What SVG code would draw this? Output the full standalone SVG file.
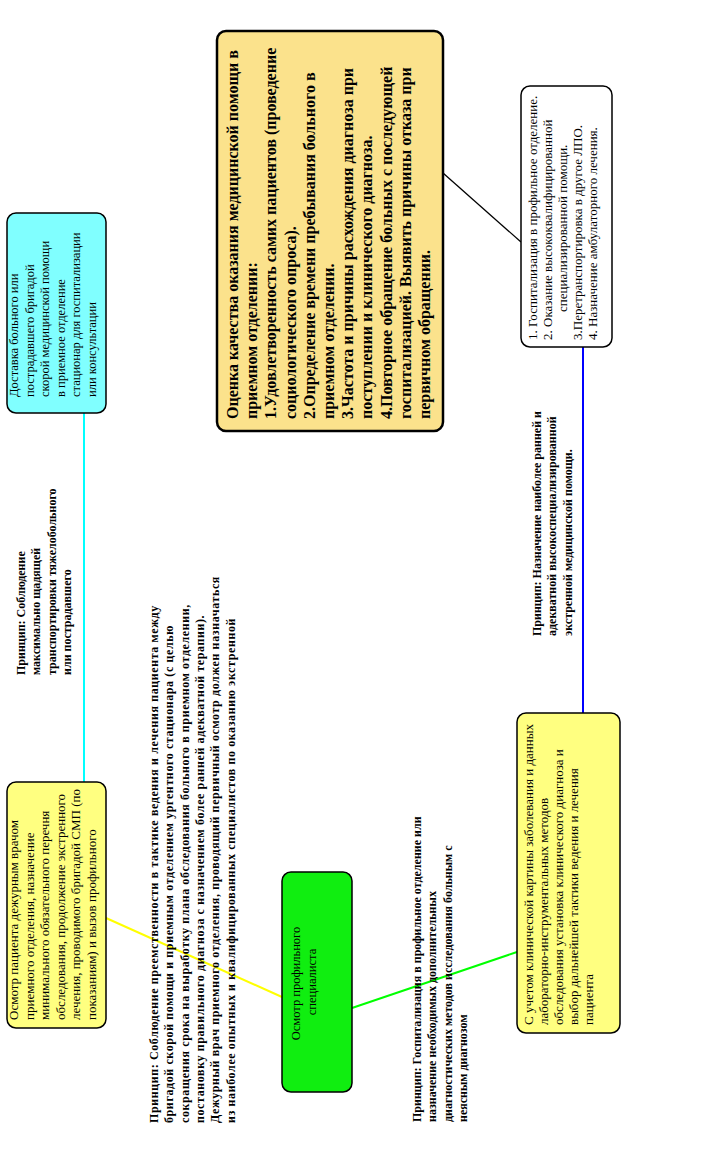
<svg xmlns="http://www.w3.org/2000/svg" width="706" height="1158" viewBox="0 0 706 1158">
<style>
.box{stroke:#000;stroke-width:1.5}
.t{font-family:"Liberation Serif","DejaVu Serif",serif;font-size:12.5px;fill:#000}
.t13{font-family:"Liberation Serif","DejaVu Serif",serif;font-size:13px;fill:#000}
.b{font-family:"Liberation Serif","DejaVu Serif",serif;font-size:12px;font-weight:bold;fill:#000}
.ob{font-family:"Liberation Serif","DejaVu Serif",serif;font-size:16px;font-weight:bold;fill:#000}
.c{fill:none;stroke-width:2}
</style>
<rect width="706" height="1158" fill="#fff"/>
<g id="connectors">
<line class="c" x1="84" y1="413" x2="84" y2="782" stroke="#00FFFF"/>
<line class="c" x1="106" y1="918" x2="282" y2="997" stroke="#FFFF00"/>
<line class="c" x1="352" y1="1008" x2="517" y2="952" stroke="#00FF00"/>
<line class="c" x1="583" y1="713" x2="583" y2="347" stroke="#0000FF"/>
<line x1="443" y1="173" x2="521" y2="242" stroke="#000" stroke-width="1.3"/>
</g>
<g id="node-delivery">
<rect class="box" x="7" y="213" width="99" height="200" rx="9" fill="#80FFFF"/>
<g transform="translate(18,397) rotate(-90)"><text class="t">
<tspan x="0" y="0">Доставка больного или</tspan>
<tspan x="0" y="15.5">пострадавшего бригадой</tspan>
<tspan x="0" y="31">скорой медицинской помощи</tspan>
<tspan x="0" y="46.5">в приемное отделение</tspan>
<tspan x="0" y="62">стационар для госпитализации</tspan>
<tspan x="0" y="77.5">или консультации</tspan>
</text></g>
</g>
<g id="principle-1">
<g transform="translate(25,675) rotate(-90)"><text class="b">
<tspan x="0" y="0">Принцип: Соблюдение</tspan>
<tspan x="0" y="15.3">максимально щадящей</tspan>
<tspan x="0" y="30.6">транспортировки тяжелобольного</tspan>
<tspan x="0" y="45.9">или пострадавшего</tspan>
</text></g>
</g>
<g id="node-exam">
<rect class="box" x="7" y="782" width="99" height="246" rx="9" fill="#FFFF80"/>
<g transform="translate(18,1020) rotate(-90)"><text class="t13">
<tspan x="0" y="0">Осмотр пациента дежурным врачом</tspan>
<tspan x="0" y="15.5">приемного отделения, назначение</tspan>
<tspan x="0" y="31">минимального обязательного перечня</tspan>
<tspan x="0" y="46.5">обследования, продолжение экстренного</tspan>
<tspan x="0" y="62">лечения, проводимого бригадой СМП (по</tspan>
<tspan x="0" y="77.5">показаниям) и вызов профильного</tspan>
</text></g>
</g>
<g id="principle-2">
<g transform="translate(158,1123) rotate(-90)"><text class="b" letter-spacing="0.6">
<tspan x="0" y="0">Принцип: Соблюдение преемственности в тактике ведения и лечения пациента между</tspan>
<tspan x="0" y="15.3">бригадой скорой помощи и приемным отделением ургентного стационара (с целью</tspan>
<tspan x="0" y="30.6">сокращения срока на выработку плана обследования больного в приемном отделении,</tspan>
<tspan x="0" y="45.9">постановку правильного диагноза  с назначением более ранней адекватной терапии).</tspan>
<tspan x="0" y="61.2">Дежурный врач приемного отделения, проводящий первичный осмотр должен назначаться</tspan>
<tspan x="0" y="76.5">из наиболее опытных и квалифицированных специалистов по оказанию экстренной</tspan>
</text></g>
</g>
<g id="node-specialist">
<rect class="box" x="282" y="872" width="70" height="220" rx="9" fill="#10EE10"/>
<g transform="translate(300,982) rotate(-90)"><text class="t" text-anchor="middle">
<tspan x="0" y="0">Осмотр профильного</tspan>
<tspan x="0" y="15.5">специалиста</tspan>
</text></g>
</g>
<g id="node-quality">
<rect x="217" y="31" width="226" height="400" rx="9" fill="#FBE28C" stroke="#000" stroke-width="2.5"/>
<g transform="translate(238,419) rotate(-90)"><text class="ob">
<tspan x="0" y="0">Оценка качества оказания медицинской помощи в</tspan>
<tspan x="0" y="19.2">приемном отделении:</tspan>
<tspan x="0" y="38.4">1.Удовлетворенность самих пациентов (проведение</tspan>
<tspan x="0" y="57.6">социологического опроса).</tspan>
<tspan x="0" y="76.8">2.Определение времени пребывания больного в</tspan>
<tspan x="0" y="96">приемном отделении.</tspan>
<tspan x="0" y="115.2">3.Частота и причины расхождения  диагноза при</tspan>
<tspan x="0" y="134.4">поступлении и клинического диагноза.</tspan>
<tspan x="0" y="153.6">4.Повторное обращение больных с последующей</tspan>
<tspan x="0" y="172.8">госпитализацией. Выявить причины отказа при</tspan>
<tspan x="0" y="192">первичном обращении.</tspan>
</text></g>
</g>
<g id="principle-4">
<g transform="translate(421,1122) rotate(-90)"><text class="b" font-size="12.8">
<tspan x="0" y="0">Принцип: Госпитализация в профильное отделение или</tspan>
<tspan x="0" y="15.3">назначение необходимых дополнительных</tspan>
<tspan x="0" y="30.6">диагностических методов исследования больным с</tspan>
<tspan x="0" y="45.9">неясным диагнозом</tspan>
</text></g>
</g>
<g id="node-outcome">
<rect class="box" x="521" y="86" width="91" height="261" rx="9" fill="#FFFFFF"/>
<g transform="translate(537,340) rotate(-90)"><text class="t13">
<tspan x="0" y="0">1. Госпитализация в профильное отделение.</tspan>
<tspan x="0" y="15">2. Оказание высококвалифицированной</tspan>
<tspan x="28" y="30">специализированной помощи.</tspan>
<tspan x="0" y="45">3.Перетранспортировка в другое ЛПО.</tspan>
<tspan x="0" y="60">4. Назначение амбулаторного лечения.</tspan>
</text></g>
</g>
<g id="principle-3">
<g transform="translate(541,636) rotate(-90)"><text class="b" font-size="11">
<tspan x="0" y="0">Принцип: Назначение наиболее ранней и</tspan>
<tspan x="0" y="15.3">адекватной высокоспециализированной</tspan>
<tspan x="0" y="30.6">экстренной медицинской помощи.</tspan>
</text></g>
</g>
<g id="node-diagnosis">
<rect class="box" x="517" y="713" width="103" height="320" rx="9" fill="#FFFF80"/>
<g transform="translate(533,1025) rotate(-90)"><text class="t13">
<tspan x="0" y="0">С учетом клинической картины заболевания и данных</tspan>
<tspan x="0" y="15">лабораторно-инструментальных методов</tspan>
<tspan x="0" y="30">обследования установка клинического диагноза и</tspan>
<tspan x="0" y="45">выбор дальнейшей тактики ведения и лечения</tspan>
<tspan x="0" y="60">пациента</tspan>
</text></g>
</g>
</svg>
